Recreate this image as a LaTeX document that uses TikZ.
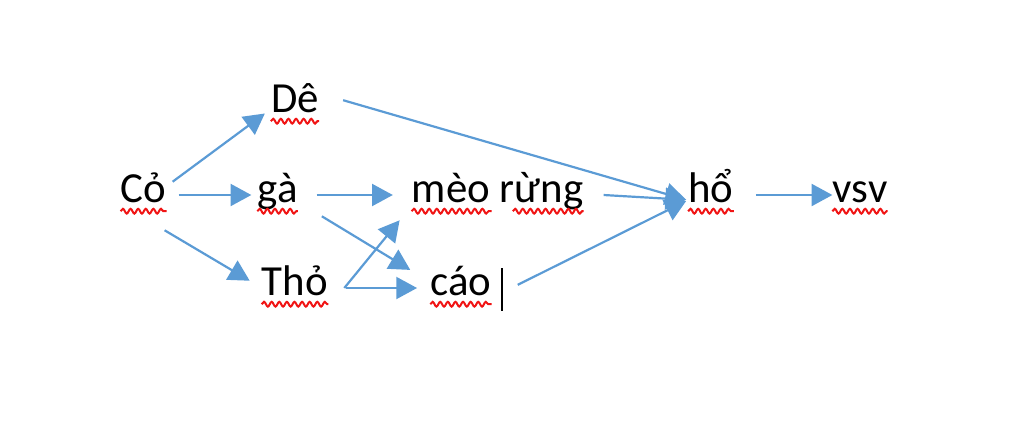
\documentclass[tikz,border=0pt]{standalone}
\usepackage{fontspec}
\setmainfont{Carlito}
\usepackage{tikz}
\usetikzlibrary{arrows.meta,decorations.pathmorphing,calc}
\definecolor{arrblue}{RGB}{91,155,213}
\definecolor{squigred}{RGB}{240,20,20}
\tikzset{
  sp/.style={anchor=base,inner sep=0.15cm,text height=0.35cm,text depth=0cm,font=\fontsize{30.5}{36}\selectfont},
  ar/.style={draw=arrblue,line width=0.055cm,-{Triangle[length=0.52cm,width=0.55cm]}},
  squig/.style={draw=squigred,line width=0.05cm,decorate,decoration={snake,segment length=0.19cm,amplitude=0.06cm}}
}
\newcommand{\wavyline}[2]{\draw[squig] ([xshift=0.15cm,yshift=-0.23cm]#1) -- ([xshift=-0.15cm,yshift=-0.23cm]#2);}

\begin{document}
\begin{tikzpicture}
        \useasboundingbox (0,0) rectangle (25.6,-11.075);
        \node[sp] (co) at (3.59,-5.05) {Cỏ};
        \node[sp] (de) at (7.375,-2.8) {Dê};
        \node[sp] (ga) at (6.94,-5.05) {gà};
        \node[sp] (tho) at (7.375,-7.375) {Thỏ};
        \node[sp] (meo) at (12.44,-5.05) {mèo rừng};
        \node[sp] (cao) at (11.525,-7.375) {cáo};
        \node[sp] (ho) at (17.775,-5.05) {hổ};
        \node[sp] (vsv) at (21.5,-5.05) {vsv};
        \draw[ar] (co.north east) -- ([yshift=0.12cm]de.south west);
        \draw[ar] ([xshift=0.15cm]co.east) -- (ga.west);
        \draw[ar] ([xshift=-0.2cm,yshift=-0.55cm]co.south east) -- ([xshift=-0.15cm,yshift=-0.15cm]tho.north west);
        \draw[ar] ([xshift=0.32cm]ga.east) -- ([xshift=-0.32cm]meo.west);
        \draw[ar] ([xshift=0.45cm,yshift=-0.2cm]ga.south east) -- ([xshift=-0.35cm,yshift=0.12cm]cao.north west);
        \draw[ar] ([xshift=0.25cm]tho.east) -- ([xshift=-0.15cm,yshift=-0.3cm]meo.south west);
        \draw[ar] ([xshift=0.3cm]tho.east) -- ([xshift=-0.18cm]cao.west);
        \draw[ar] ([xshift=0.45cm,yshift=0.12cm]de.east) -- ([xshift=0.1cm,yshift=-0.12cm]ho.west);
        \draw[ar] ([xshift=0.35cm]meo.east) -- ([xshift=0.1cm,yshift=-0.12cm]ho.west);
        \draw[ar] ([xshift=0.5cm,yshift=0.08cm]cao.east) -- ([xshift=0.1cm,yshift=-0.15cm]ho.west);
        \draw[ar] ([xshift=0.4cm]ho.east) -- ([xshift=0.15cm]vsv.west);
        % spelling marks
        \wavyline{co.base west}{co.base east}
        \wavyline{de.base west}{de.base east}
        \wavyline{ga.base west}{ga.base east}
        \wavyline{tho.base west}{tho.base east}
        \wavyline{cao.base west}{cao.base east}
        \wavyline{ho.base west}{ho.base east}
        \wavyline{vsv.base west}{vsv.base east}
        \wavyline{meo.base west}{$(meo.base west)!0.5!(meo.base east)$}
        \wavyline{$(meo.base west)!0.55!(meo.base east)$}{meo.base east}
        \draw[line width=0.05cm] ([xshift=0.1cm,yshift=0.5cm]cao.east) -- ([xshift=0.1cm,yshift=-0.58cm]cao.east);
    \end{tikzpicture}
\end{document}
